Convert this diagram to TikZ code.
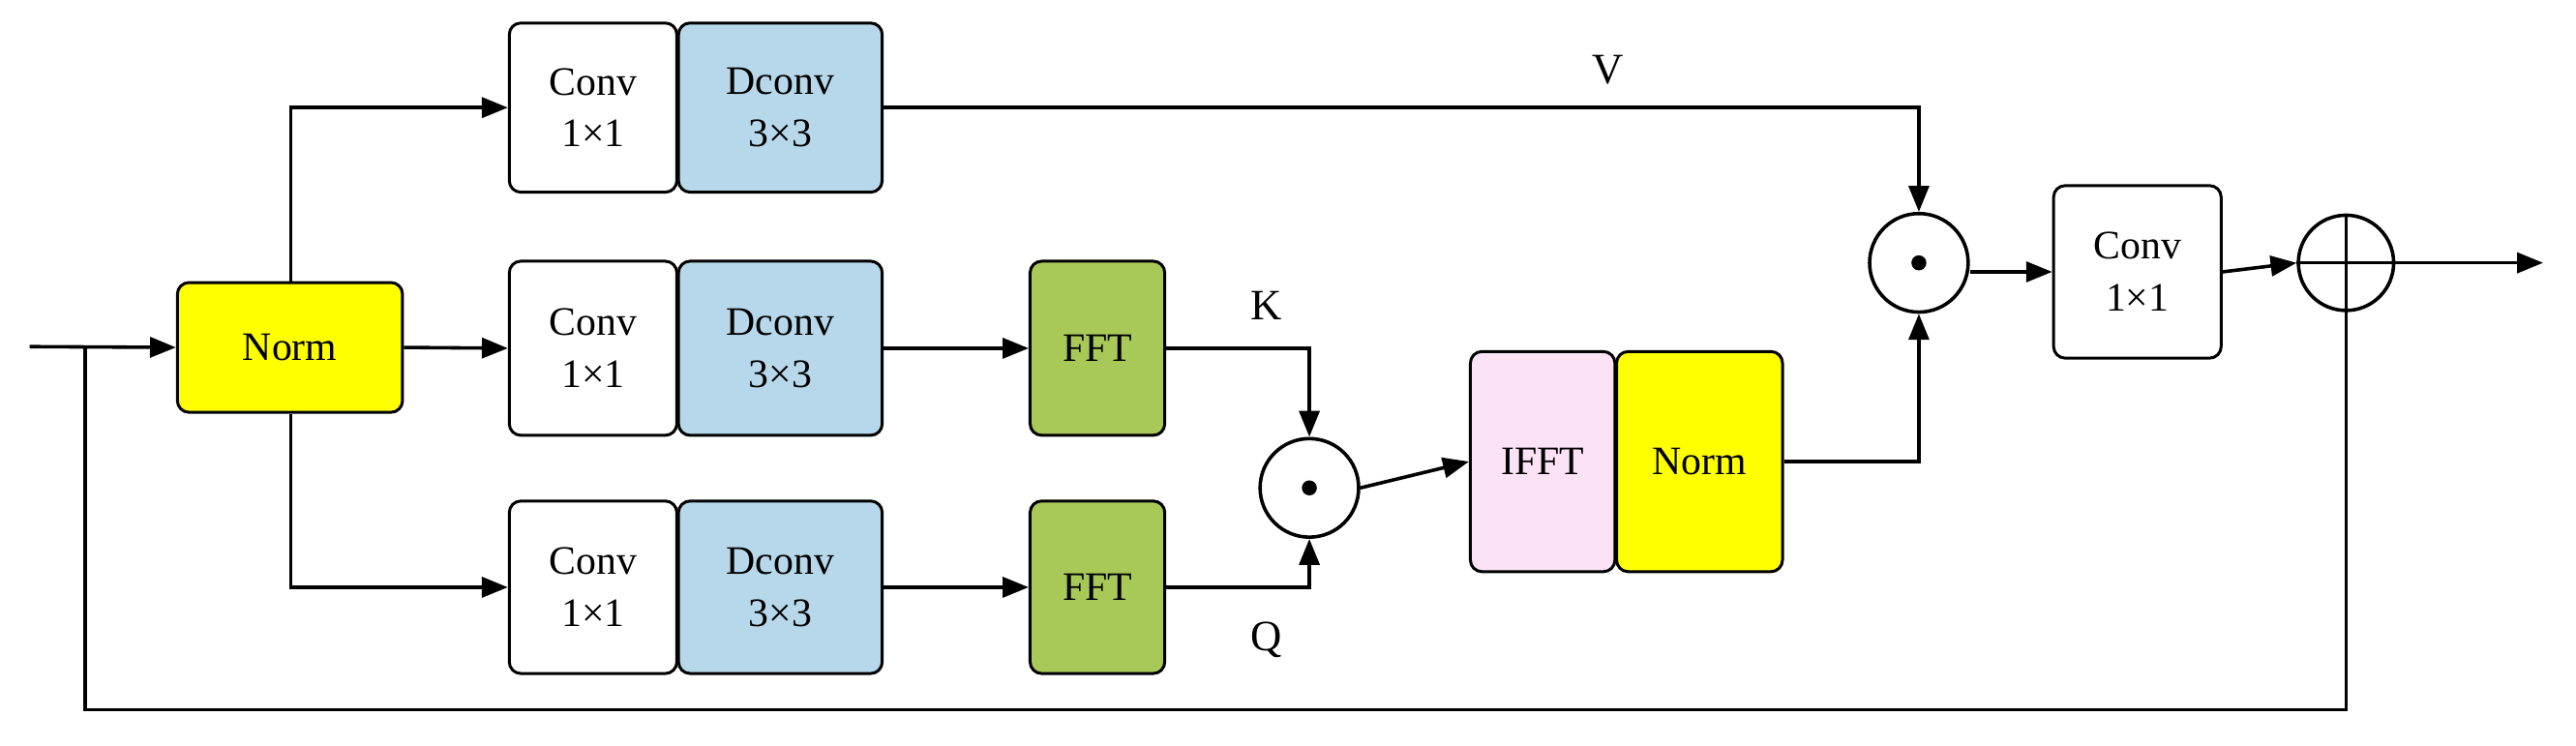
\documentclass[tikz,border=0pt]{standalone}
\usepackage{fontspec}
\setmainfont{Liberation Serif}
\usetikzlibrary{arrows.meta}
\definecolor{yel}{RGB}{255,255,0}
\definecolor{blu}{RGB}{183,216,234}
\definecolor{grn}{RGB}{168,200,88}
\definecolor{pnk}{RGB}{252,226,245}
\begin{document}
\begin{tikzpicture}[x=0.02cm,y=-0.02cm,
  box/.style={draw,line width=1pt,rounded corners=4pt,minimum width=#1*0.02cm,align=center,font=\fontsize{14}{18}\selectfont,inner sep=0pt},
  ln/.style={line width=1.2pt},
  ar/.style={ln,-{Triangle[length=9pt,width=7pt]}},
  op/.style={draw,circle,line width=1.2pt,minimum size=60*0.02cm,inner sep=0pt},
  lab/.style={font=\fontsize{15}{18}\selectfont}]
\useasboundingbox (0,0) rectangle (1568,454);
% Norm
\node[box=137,fill=yel,minimum height=79*0.02cm] (norm) at (176.5,211.5) {Norm};
% conv rows
\foreach \n/\y/\h in {t/65.5/103,m/212/106,b/357.5/105}{
  \node[box=102,fill=white,minimum height=\h*0.02cm] (c\n) at (361,\y) {Conv\\1×1};
  \node[box=124,fill=blu,minimum height=\h*0.02cm] (d\n) at (475,\y) {Dconv\\3×3};
}
\node[box=82,fill=grn,minimum height=106*0.02cm] (fm) at (668,212) {FFT};
\node[box=82,fill=grn,minimum height=105*0.02cm] (fb) at (668,357.5) {FFT};
\node[op] (m1) at (797,297) {};
\fill (m1) circle (2.6pt);
\node[box=88,fill=pnk,minimum height=134*0.02cm] (ifft) at (939,281) {IFFT};
\node[box=101,fill=yel,minimum height=134*0.02cm] (n2) at (1034.5,281) {Norm};
\node[op] (m2) at (1168,160) {};
\fill (m2) circle (2.6pt);
\node[box=102,fill=white,minimum height=105*0.02cm] (c4) at (1301,165.5) {Conv\\1×1};
\node[op,minimum size=58*0.02cm] (pl) at (1428,160) {};
\draw[ln] (pl.north)--(pl.south) (pl.west)--(pl.east);
\coordinate (in) at (18,211);
\coordinate (out) at (1548,160);
\coordinate (sp) at (52,211);
% connectors
\draw[ar] (in)--(norm.west);
\draw[ar] (norm.north -| 177,0) |- (ct.west);
\draw[ar] (norm.south -| 177,0) |- (cb.west);
\draw[ar] (norm.east)--(cm.west);
\draw[ar] (dm.east)--(fm.west);
\draw[ar] (db.east)--(fb.west);
\draw[ar] (dt.east) -| node[lab,pos=0.35,above=4pt]{V} (m2.north);
\draw[ar] (fm.east) -| node[lab,pos=0.35,above=6pt]{K} (m1.north);
\draw[ar] (fb.east) -| node[lab,pos=0.35,below=8pt]{Q} (m1.south);
\draw[ar] (m1.east)--(ifft.west);
\draw[ar] (n2.east) -| (m2.south);
\draw[ar] (m2.east|-c4.west)--(c4.west);
\draw[ar] (c4.east)--(pl.west);
\draw[ar] (pl.east)--(out);
\draw[ln] (sp) -- (52,432) -| (pl.south);
\end{tikzpicture}
\end{document}
